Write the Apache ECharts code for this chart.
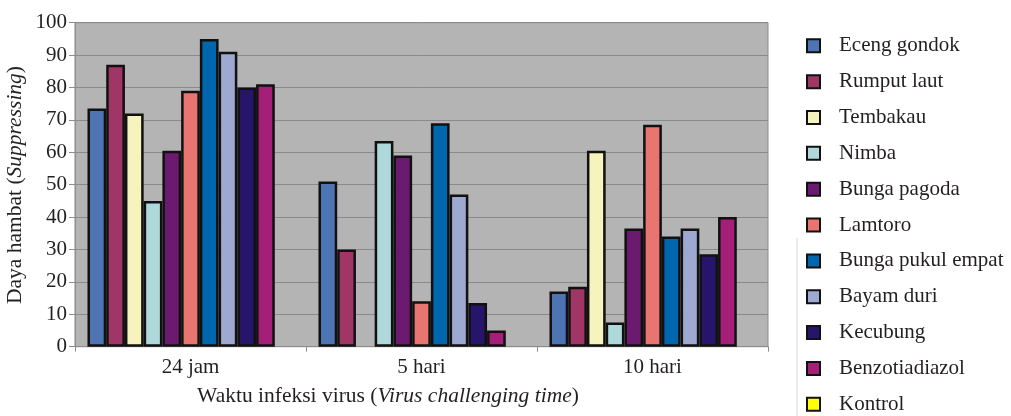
<!DOCTYPE html>
<html>
<head>
<meta charset="utf-8">
<script src="https://cdn.jsdelivr.net/npm/echarts@6/dist/echarts.min.js"></script>
<style>html,body{margin:0;padding:0;background:#fff}#c{width:1011px;height:416px}</style>
</head>
<body>
<div id="c"></div>
<script>
const categories = ['24 jam', '5 hari', '10 hari'];
const seriesNames = ['Eceng gondok','Rumput laut','Tembakau','Nimba','Bunga pagoda','Lamtoro','Bunga pukul empat','Bayam duri','Kecubung','Benzotiadiazol','Kontrol'];
const ecengGondok = [73.5, 51, 17];
const rumputLaut = [87, 30, 18.5];
const tembakau = [72, 0, 60.5];
const nimba = [45, 63.5, 7.5];
const bungaPagoda = [60.5, 59, 36.5];
const lamtoro = [79, 14, 68.5];
const bungaPukulEmpat = [95, 69, 34];
const bayamDuri = [91, 47, 36.5];
const kecubung = [80, 13.5, 28.5];
const benzotiadiazol = [81, 5, 40];
const kontrol = [0, 0, 0];
const yTicks = [0,10,20,30,40,50,60,70,80,90,100];
const colors = ['#4f74b4','#a03665','#f7f3bd','#aed8da','#6c1a70','#e87570','#0066ad','#9da9d1','#27146b','#a31f78','#ffff00'];
const allData = [ecengGondok,rumputLaut,tembakau,nimba,bungaPagoda,lamtoro,bungaPukulEmpat,bayamDuri,kecubung,benzotiadiazol,kontrol];

const font = 'Liberation Serif';
const fs = 21;
const rich = {n: {fontFamily: font, fontSize: 21.5, fill: '#231f20'}, i: {fontFamily: font, fontSize: 21.5, fontStyle: 'italic', fill: '#231f20'}};
const chart = echarts.init(document.getElementById('c'));
chart.setOption({
  animation: false,
  textStyle: {fontFamily: font},
  grid: {left: 75, right: 243, top: 22.7, bottom: 69.3, show: true, backgroundColor: '#b4b4b4', borderColor: '#8c8c8c', borderWidth: 1},
  legend: {
    orient: 'vertical', left: 806, top: 35.3, height: 395, padding: 0, itemWidth: 13, itemHeight: 13, itemGap: 14.85,
    icon: 'rect',
    itemStyle: {borderColor: '#111', borderWidth: 2},
    textStyle: {fontFamily: font, fontSize: fs, color: '#231f20', padding: [0,0,0,14]},
    data: seriesNames
  },
  xAxis: {
    type: 'category', data: categories,
    axisLine: {lineStyle: {color: '#8c8c8c', width: 1}},
    axisTick: {show: true, length: 5, lineStyle: {color: '#8c8c8c'}},
    axisLabel: {fontFamily: font, fontSize: fs, color: '#231f20', margin: 10}
  },
  yAxis: {
    type: 'value', min: 0, max: 100, interval: 10,
    axisLine: {show: true, lineStyle: {color: '#8c8c8c'}},
    axisTick: {show: true, length: 6, lineStyle: {color: '#8c8c8c'}},
    axisLabel: {fontFamily: font, fontSize: fs, color: '#231f20', margin: 8,
      formatter: v => yTicks.includes(v) ? String(v) : ''},
    splitLine: {show: true, lineStyle: {color: '#8a8a8a', width: 1}}
  },
  graphic: [
    {type: 'text', x: 388, y: 396, style: {text: '{n|Waktu infeksi virus (}{i|Virus challenging time}{n|)}', align: 'center', verticalAlign: 'middle', rich}},
    {type: 'text', x: 15, y: 185, rotation: Math.PI/2, style: {text: '{n|Daya hambat (}{i|Suppressing}{n|)}', align: 'center', verticalAlign: 'middle', rich}},
    {type: 'line', shape: {x1: 797, y1: 238, x2: 797, y2: 416}, style: {stroke: '#d8d8d8', lineWidth: 1}}
  ],
  series: seriesNames.map((name, i) => ({
    name, type: 'bar', barGap: '0%', barCategoryGap: '10.8%',
    itemStyle: {color: colors[i], borderColor: '#111', borderWidth: 2.5},
    data: allData[i].map(v => v === 0 ? {value: 0, itemStyle: {borderWidth: 0}} : v)
  }))
});
</script>
</body>
</html>
